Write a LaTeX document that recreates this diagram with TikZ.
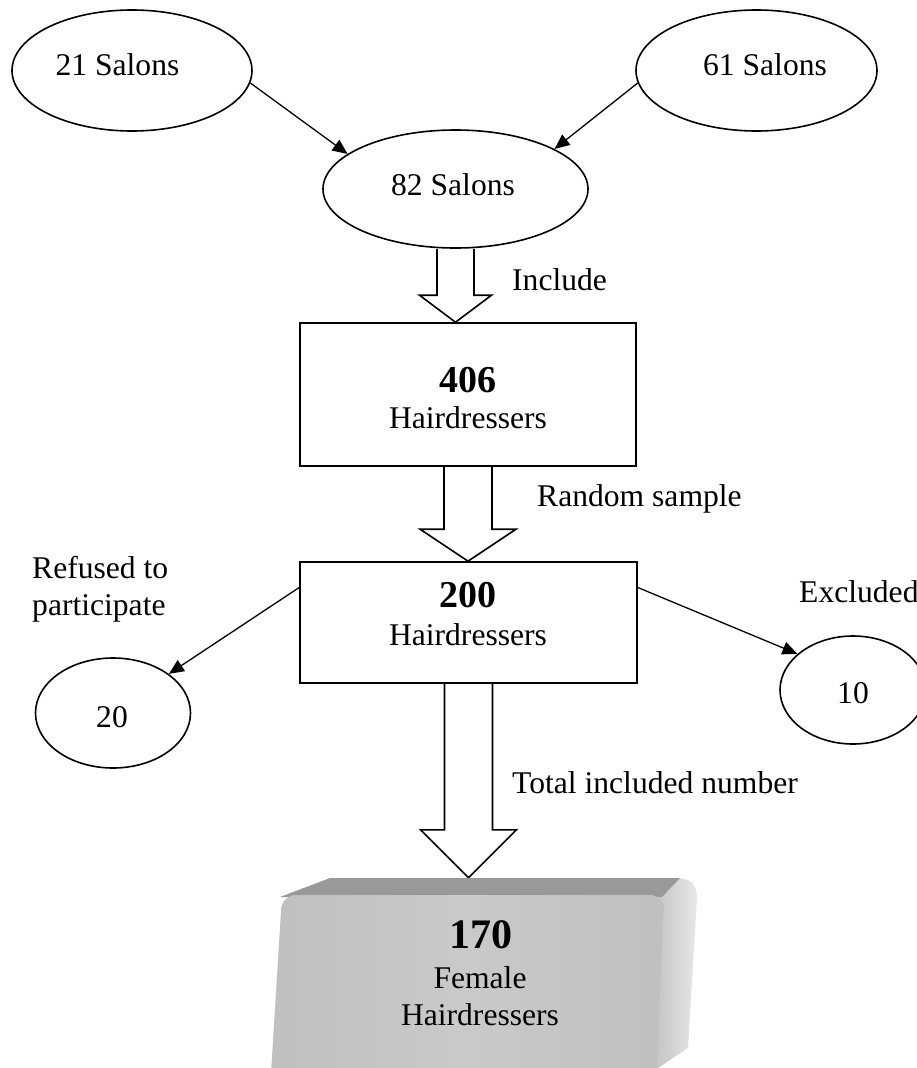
\documentclass[tikz,border=0pt]{standalone}
\usepackage{fontspec}
\setmainfont{Liberation Serif}
\usetikzlibrary{shapes.geometric,arrows.meta,calc,backgrounds}
\newcommand{\blockarrow}[5]{\draw[blockarr] let \p1=#1, \p2=#2 in (\x1-#3,\y1) -- (\x1-#3,\y2+#5) -- (\x1-#4,\y2+#5) -- (\x1,\y2) -- (\x1+#4,\y2+#5) -- (\x1+#3,\y2+#5) -- (\x1+#3,\y1);}
\begin{document}
\begin{tikzpicture}[x=1pt,y=-1pt,
  ell/.style={draw, ellipse, line width=1.6pt, inner sep=0pt},
  box/.style={draw, rectangle, line width=1.6pt, inner sep=0pt},
  txt/.style={font=\fontsize{31.6}{37}\selectfont, inner sep=0pt},
  num/.style={font=\fontsize{38}{44}\selectfont\bfseries, inner sep=0pt},
  conn/.style={line width=1.3pt, -{Triangle[length=15pt,width=13pt]}},
  blockarr/.style={line width=1.6pt, fill=white, line join=miter}]
\useasboundingbox (0,0) rectangle (917,1068);
\begin{pgfonlayer}{background}
\fill[white] (0,0) rectangle (917,1068);
\end{pgfonlayer}

% ellipses
\node[ell, minimum width=240pt, minimum height=121pt] (e21) at (132,70.5) {};
\node[ell, minimum width=241pt, minimum height=121pt] (e61) at (756.5,70.5) {};
\node[ell, minimum width=265pt, minimum height=118pt] (e82) at (455.5,189) {};
\node[ell, minimum width=155pt, minimum height=110pt] (c20) at (113,713) {};
\node[ell, minimum width=146pt, minimum height=108pt] (c10) at (853,690) {};

\node[txt, anchor=base] (l21) at (117.5,75) {21 Salons};
\node[txt, anchor=base] (l61) at (765,75) {61 Salons};
\node[txt, anchor=base] (l82) at (453,195) {82 Salons};
\node[txt, anchor=base] (l20) at (112,727) {20};
\node[txt, anchor=base] (l10) at (853,703) {10};

% boxes
\node[box, minimum width=336pt, minimum height=143pt] (b406) at (468,394.5) {};
\node[num, anchor=base] (n406) at (467.5,392) {406};
\node[txt, anchor=base] (h406) at (468,428) {Hairdressers};

\node[box, minimum width=337pt, minimum height=121pt] (b200) at (468.5,622.5) {};
\node[num, anchor=base] (n200) at (467.5,607) {200};
\node[txt, anchor=base] (h200) at (468,645) {Hairdressers};

% 3D box 170
\shade[left color=black!24, right color=black!9] (655,897) -- (676,878) .. controls (690,878) and (697,884) .. (697,898) -- (688,1048) -- (652,1072) -- cycle;
\fill[black!40] (280,897) -- (330,878) -- (680,878) -- (662,897) -- cycle;
\shade[left color=black!25, right color=black!25, middle color=black!21, rounded corners=14pt] (282,895) -- (664,895) -- (656,1090) -- (270,1090) -- cycle;
\node[inner sep=0pt, minimum width=380pt, minimum height=188pt] (b170) at (468,972) {};
\node[num, font=\fontsize{42}{48}\selectfont\bfseries, anchor=base] (n170) at (481,948) {170};
\node[txt, anchor=base] (f170) at (480,988) {Female};
\node[txt, anchor=base] (h170) at (480,1025) {Hairdressers};

% labels
\node[txt, anchor=base west] (linc) at (512,290) {Include};
\node[txt, anchor=base west] (lrand) at (537,506) {Random sample};
\node[txt, anchor=base west] (ltot) at (512,793) {Total included number};
\node[txt, anchor=north west, align=left] (lref) at (32,556) {Refused to\\participate};
\node[txt, anchor=base west] (lexc) at (799,602) {Excluded};

% connectors
\draw[conn] (e21.-6) -- (e82.162);
\draw[conn] (e61.186) -- (e82.22);
\draw[conn] ([yshift=35pt]b200.west) -- (c20.35);
\draw[conn] ([yshift=35pt]b200.east) -- (c10.147);

\begin{pgfonlayer}{background}
\blockarrow{(e82.south)}{(e82.south |- b406.north)}{18.5pt}{36pt}{27pt}
\blockarrow{(b406.south)}{(b200.north)}{24pt}{48pt}{32pt}
\blockarrow{(b200.south)}{(b200.south |- b170.north)}{24pt}{48pt}{48pt}
\end{pgfonlayer}
\end{tikzpicture}
\end{document}
